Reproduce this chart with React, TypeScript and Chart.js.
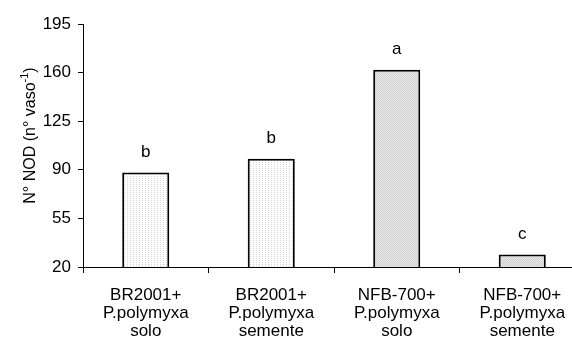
import React, { useEffect, useRef } from "react";
import { Chart, registerables } from "chart.js";

Chart.register(...registerables);

// Treatments (multi-line axis labels)
const categories: string[][] = [
  ["BR2001+", "P.polymyxa", "solo"],
  ["BR2001+", "P.polymyxa", "semente"],
  ["NFB-700+", "P.polymyxa", "solo"],
  ["NFB-700+", "P.polymyxa", "semente"],
];

// Number of nodules per pot
const nodules: number[] = [88, 98, 162, 29];

// Significance letters shown above each bar
const letters: string[] = ["b", "b", "a", "c"];

// Whether the bar uses the darker stipple
const darkFill: boolean[] = [false, false, true, true];

const yTicks: number[] = [20, 55, 90, 125, 160, 195];

const FONT = "'Liberation Sans', Arial, sans-serif";

function makePattern(dark: boolean): CanvasPattern | string {
  const c = document.createElement("canvas");
  c.width = dark ? 2 : 3;
  c.height = 2;
  const g = c.getContext("2d");
  if (!g) return dark ? "#dcdcdc" : "#f3f3f3";
  if (dark) {
    g.fillStyle = "#ebebeb";
    g.fillRect(0, 0, 2, 2);
    g.fillStyle = "#cdcdcd";
    g.fillRect(0, 0, 1, 1);
    g.fillRect(1, 1, 1, 1);
  } else {
    g.fillStyle = "#ffffff";
    g.fillRect(0, 0, 3, 2);
    g.fillStyle = "#d6d6d6";
    g.fillRect(1, 0, 1, 1);
  }
  const p = g.createPattern(c, "repeat");
  return p || (dark ? "#dcdcdc" : "#f3f3f3");
}

const lettersPlugin = {
  id: "barLetters",
  afterDatasetsDraw(chart: any) {
    const ctx = chart.ctx;
    const meta = chart.getDatasetMeta(0);
    ctx.save();
    ctx.fillStyle = "#000";
    ctx.font = `17px ${FONT}`;
    ctx.textAlign = "center";
    ctx.textBaseline = "bottom";
    meta.data.forEach((bar: any, i: number) => {
      ctx.fillText(letters[i], bar.x, bar.y - 12);
    });
    ctx.restore();
  },
};

const yTitlePlugin = {
  id: "yTitle",
  afterDraw(chart: any) {
    const ctx = chart.ctx;
    const { top, bottom } = chart.chartArea;
    const main = "N° NOD (n° vaso";
    const sup = "-1";
    const close = ")";
    ctx.save();
    ctx.fillStyle = "#000";
    ctx.font = `16px ${FONT}`;
    const w1 = ctx.measureText(main).width;
    const w3 = ctx.measureText(close).width;
    ctx.font = `11px ${FONT}`;
    const w2 = ctx.measureText(sup).width;
    const total = w1 + w2 + w3;
    const cy = (top + bottom) / 2 - 10;
    ctx.translate(35, cy);
    ctx.rotate(-Math.PI / 2);
    ctx.textBaseline = "alphabetic";
    ctx.textAlign = "left";
    let x = -total / 2;
    ctx.font = `16px ${FONT}`;
    ctx.fillText(main, x, 0);
    x += w1;
    ctx.font = `11px ${FONT}`;
    ctx.fillText(sup, x, -7);
    x += w2;
    ctx.font = `16px ${FONT}`;
    ctx.fillText(close, x, 0);
    ctx.restore();
  },
};

export default function App() {
  const ref = useRef<HTMLCanvasElement | null>(null);

  useEffect(() => {
    if (!ref.current) return;
    const chart = new Chart(ref.current, {
      type: "bar",
      data: {
        labels: categories,
        datasets: [
          {
            data: nodules,
            backgroundColor: darkFill.map((d) => makePattern(d)) as any,
            borderColor: "#000",
            borderWidth: 2,
            barPercentage: 0.375,
            categoryPercentage: 1,
          },
        ],
      },
      options: {
        animation: false,
        responsive: false,
        maintainAspectRatio: false,
        layout: { padding: { top: 24, right: 15, left: 0, bottom: 0 } },
        plugins: {
          legend: { display: false },
          tooltip: { enabled: false },
        },
        scales: {
          x: {
            offset: true,
            grid: {
              offset: true,
              display: true,
              drawOnChartArea: false,
              drawTicks: true,
              tickLength: 6,
              color: "#000",
            },
            border: { display: true, color: "#000", width: 1 },
            ticks: {
              color: "#000",
              font: { family: FONT, size: 17, lineHeight: "18px" },
              padding: 13,
              maxRotation: 0,
              autoSkip: false,
            },
            afterFit: (s: any) => {
              s.height = 77;
            },
          },
          y: {
            min: yTicks[0],
            max: yTicks[yTicks.length - 1],
            afterBuildTicks: (s: any) => {
              s.ticks = yTicks.map((v) => ({ value: v }));
            },
            grid: {
              display: true,
              drawOnChartArea: false,
              drawTicks: true,
              tickLength: 5,
              color: "#000",
            },
            border: { display: true, color: "#000", width: 1 },
            ticks: {
              color: "#000",
              font: { family: FONT, size: 17 },
              padding: 7,
            },
            afterFit: (s: any) => {
              s.width = 83;
            },
          },
        },
      },
      plugins: [lettersPlugin, yTitlePlugin],
    });
    return () => chart.destroy();
  }, []);

  return (
    <div
      style={{
        position: "absolute",
        left: 0,
        top: 0,
        width: 572,
        height: 344,
        overflow: "hidden",
        background: "#fff",
      }}
    >
      <canvas ref={ref} width={600} height={344} style={{ width: 600, height: 344, display: "block" }} />
    </div>
  );
}
